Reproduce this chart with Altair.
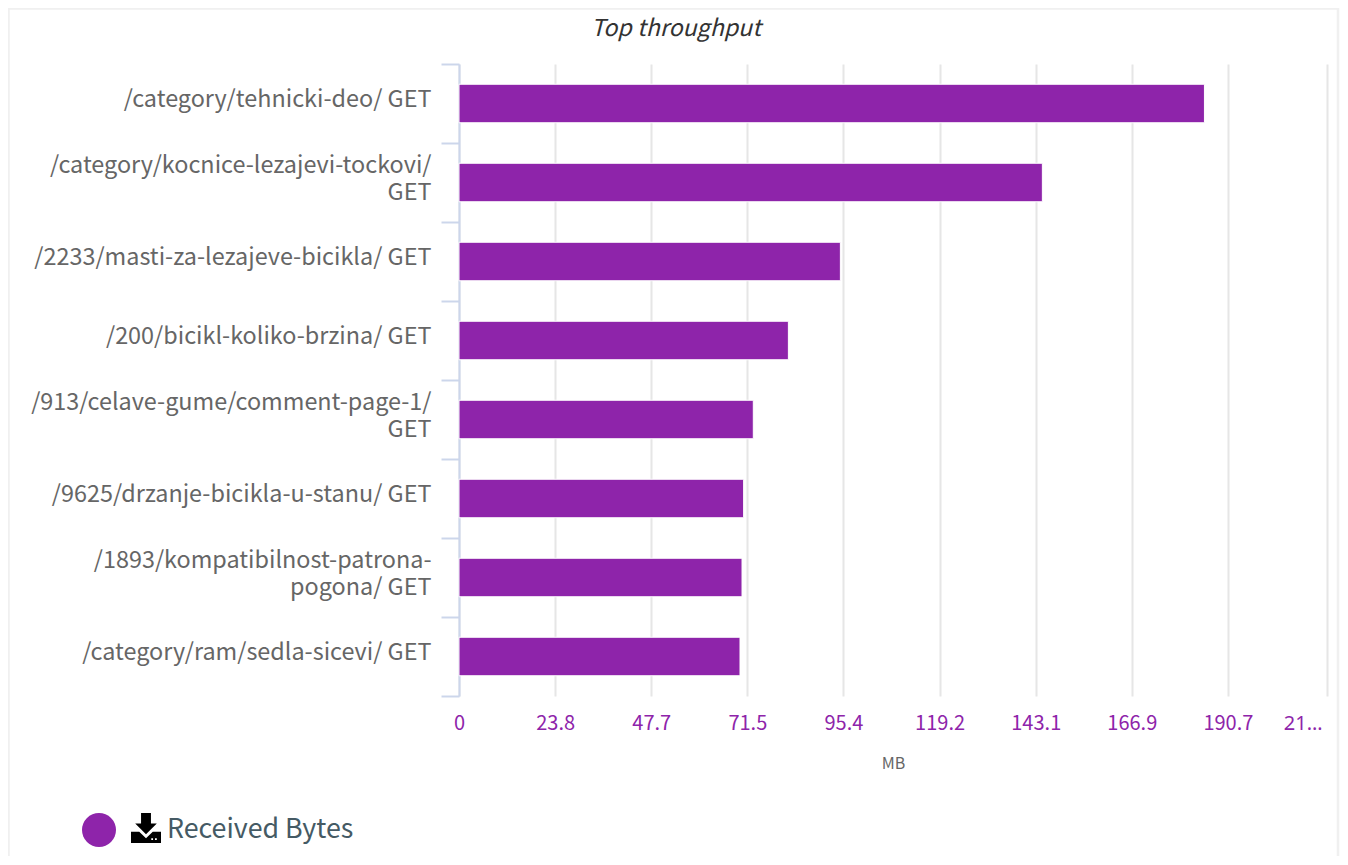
import altair as alt
import pandas as pd

categories = [
    "/category/tehnicki-deo/ GET",
    "/category/kocnice-lezajevi-tockovi/|GET",
    "/2233/masti-za-lezajeve-bicikla/ GET",
    "/200/bicikl-koliko-brzina/ GET",
    "/913/celave-gume/comment-page-1/|GET",
    "/9625/drzanje-bicikla-u-stanu/ GET",
    "/1893/kompatibilnost-patrona-|pogona/ GET",
    "/category/ram/sedla-sicevi/ GET",
]
values = [184.9, 144.7, 94.6, 81.7, 73.0, 70.6, 70.2, 69.7]
series_name = "Received Bytes"
tick_values = [0, 23.84, 47.68, 71.52, 95.36, 119.2, 143.06, 166.88, 190.72, 215.3]
chart_title = "Top throughput"
FONT = "Noto Sans CJK KR"
PURPLE = "#8e24aa"

df = pd.DataFrame({"path": categories, "mb": values, "series": series_name})

bars = alt.Chart(df).mark_bar(stroke="white", strokeWidth=1, height=38.5).encode(
    y=alt.Y(
        "path:N", sort=categories, title=None,
        scale=alt.Scale(paddingInner=0, paddingOuter=0),
        axis=alt.Axis(
            tickBand="extent", tickColor="#ccd6eb", tickWidth=2, tickSize=18,
            domainColor="#ccd6eb", domainWidth=2, grid=False,
            labelFont=FONT, labelFontSize=23.4, labelColor="#666666",
            labelPadding=10, labelLimit=440,
            labelOffset={"condition": {"test": "indexof(datum.label, '|') >= 0", "value": -17}, "value": -4.5},
            labelLineHeight=27, labelExpr="split(datum.label, '|')",
        ),
    ),
    x=alt.X(
        "mb:Q", title="MB",
        scale=alt.Scale(domain=[0, 215.3], nice=False),
        axis=alt.Axis(
            values=tick_values, grid=True, gridColor="#e6e6e6", gridWidth=2,
            ticks=False, domain=False,
            labelFont={"condition": {"test": "datum.value > 200", "value": "Noto Sans"}, "value": FONT},
            labelFontSize=20, labelColor=PURPLE,
            labelPadding=17, labelOverlap=False, labelBound=False, labelFlush=False,
            labelAlign={"condition": {"test": "datum.value > 200", "value": "right"}, "value": "center"},
            labelOffset={"condition": {"test": "datum.value > 200", "value": -5}, "value": 0},
            labelExpr="datum.value > 200 ? '21…' : datum.value == 0 ? '0' : format(datum.value, '.1f')",
            titleFont=FONT, titleFontSize=16, titleColor="#666666", titleFontWeight="normal",
            titlePadding=22,
        ),
    ),
    color=alt.Color(
        "series:N", scale=alt.Scale(range=[PURPLE]),
        legend=alt.Legend(
            title=None, orient="none", legendX=-377, legendY=749,
            symbolType="circle", symbolSize=1156, symbolStrokeWidth=0,
            labelFont=FONT, labelFontSize=26.8, labelColor="#455a64", labelOffset=51,
            labelLimit=300,
        ),
    ),
)

# Download icon beside the legend label (arrow above a tray with two small holes)
icon_path = (
    "M-0.33,-1 L0.33,-1 L0.33,-0.3 L0.72,-0.3 L0,0.42 L-0.72,-0.3 L-0.33,-0.3 Z "
    "M-1,0.25 L-0.45,0.25 L0,0.68 L0.45,0.25 L1,0.25 L1,1 L-1,1 Z "
    "M0.35,0.68 L0.35,0.8 L0.47,0.8 L0.47,0.68 Z "
    "M0.6,0.68 L0.6,0.8 L0.72,0.8 L0.72,0.68 Z"
)
one = pd.DataFrame({"i": [0]})
icon = alt.Chart(one).mark_point(
    shape=icon_path, filled=True, color="black", opacity=1, size=900, strokeWidth=0
).encode(x=alt.value(-313), y=alt.value(764))

frame = alt.Chart(one).mark_rect(
    fill="transparent", stroke="#f0f0f0", strokeWidth=2.5, clip=False
).encode(x=alt.value(-450.5), x2=alt.value(879), y=alt.value(-55.5), y2=alt.value(830))

title = alt.Chart(one).mark_text(
    text=chart_title, font=FONT, fontSize=23.2, fontStyle="italic", color="#333333",
    align="center", baseline="alphabetic",
).encode(x=alt.value(217), y=alt.value(-28))

chart = (frame + title + bars + icon).properties(
    width=868, height=632, autosize=alt.AutoSizeParams(type="none"),
    padding={"left": 451, "top": 56, "right": 13, "bottom": 160},
    background="white",
).configure_view(stroke=None)

chart.save("out.html", embed_options={"renderer": "svg", "actions": False})
